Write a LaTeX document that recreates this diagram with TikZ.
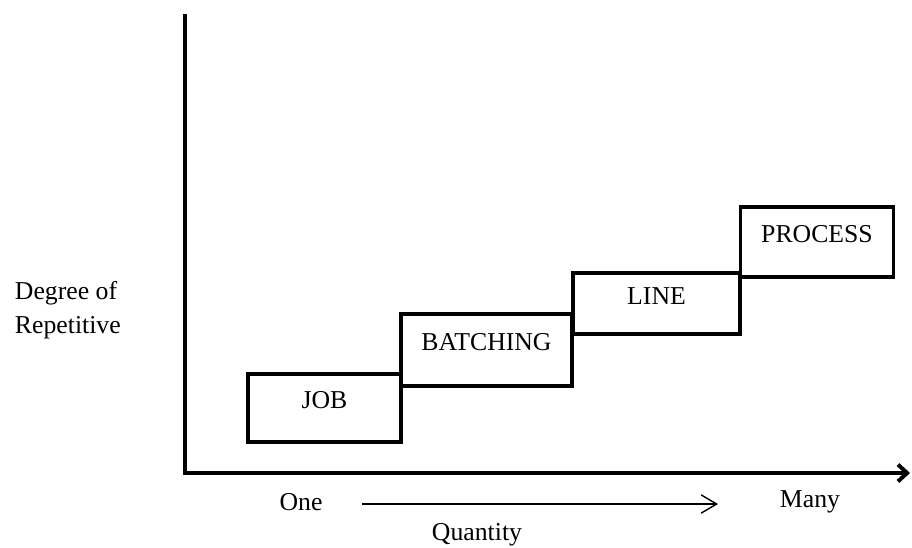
\documentclass[tikz,border=0pt]{standalone}
\usepackage{fontspec}
\setmainfont{Liberation Serif}
\usetikzlibrary{arrows.meta,positioning}

\begin{document}
\begin{tikzpicture}[x=0.025cm,y=-0.025cm,
	stage/.style={draw,line width=2.4pt,inner sep=0pt,text height=0.43cm,text depth=0.4cm,font=\fontsize{18.3}{22}\selectfont},
	lbl/.style={font=\fontsize{18.3}{24.2}\selectfont},
	axis/.style={line width=2.8pt}]
	\useasboundingbox (0,0) rectangle (912,547);

	% axes
	\coordinate (ytop) at (185,14);
	\coordinate (O) at (185,473);
	\coordinate (xend) at (910,473);
	\draw[axis,-{Straight Barb[length=6.5pt,width=12pt]}] (ytop) -- (O) -- (xend);

	% steps
	\node[stage,minimum width=3.83cm,minimum height=1.7cm] (job) at (324.5,408) {JOB};
	\node[stage,minimum width=4.28cm,minimum height=1.8cm] (batch) at (486.5,350) {BATCHING};
	\node[stage,minimum width=4.18cm,minimum height=1.53cm] (line) at (656.5,303.5) {LINE};
	\node[stage,minimum width=3.83cm,minimum height=1.75cm] (proc) at (817,242) {PROCESS};

	% labels
	\node[lbl,align=left,anchor=west] (deg) at (10,310) {Degree of\\Repetitive};
	\node[lbl] (one) at (301,502) {One};
	\node[lbl] (many) at (810,502) {Many};
	\node[lbl] (qty) at (477,535) {Quantity};

	\coordinate (qs) at (362,504);
	\coordinate (qe) at (718,504);
	\draw[line width=1pt,-{Straight Barb[length=11pt,width=13pt]}] (qs) -- (qe);
\end{tikzpicture}
\end{document}
